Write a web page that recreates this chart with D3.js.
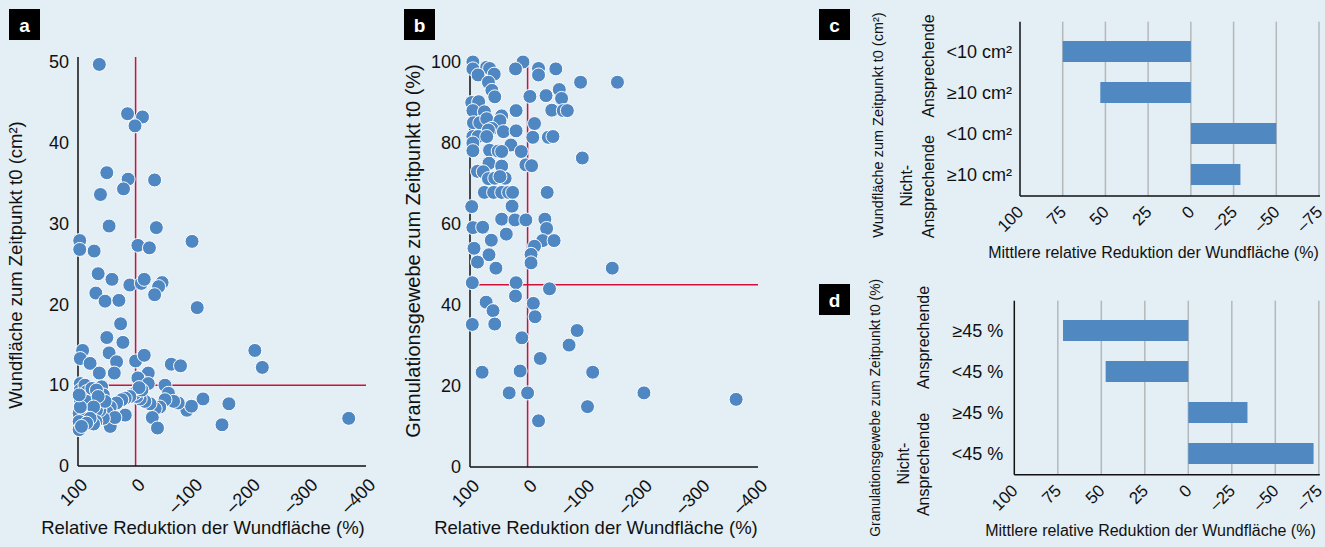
<!DOCTYPE html>
<html>
<head>
<meta charset="utf-8">
<script src="https://cdn.jsdelivr.net/npm/d3@7"></script>
<style>
  html, body { margin: 0; padding: 0; background: #e3eef5; }
  svg { display: block; font-family: "Liberation Sans", Arial, Helvetica, sans-serif; }
</style>
</head>
<body>
<svg id="chart" width="1325" height="547"></svg>
<script>
// Panel a: [relative reduction of wound area (%), wound area at t0 (cm²)]
const areaPoints = [
  [63,49.7],[14,43.6],[-12,43.2],[1,42.1],[50,36.3],[13,35.5],[21,34.3],[-33,35.4],[61,33.6],
  [46,29.7],[-36,29.5],[-98,27.8],[97,27.9],[97,26.8],[72,26.6],[-4,27.3],[-24,27.0],
  [65,23.8],[41,23.1],[10,22.4],[-10,22.6],[-15,23.1],[-46,22.7],[-40,22.2],[-33,21.2],
  [69,21.4],[53,20.4],[29,20.5],[-107,19.6],
  [26,17.6],[50,15.9],[22,15.3],[92,14.3],[96,13.3],[46,14.0],[79,12.7],[33,12.9],[63,11.5],
  [37,11.5],[0,13.0],[-15,13.7],[-62,12.6],[-78,12.4],[-207,14.3],[-220,12.2],
  [-22,11.5],[-8,10.6],[-11,10.2],[-4,10.9],[-22,10.2],[-51,10.0],[-57,9.0],[-117,8.3],
  [-162,7.7],[-150,5.1],[-89,6.9],[-97,7.4],[-74,7.8],[-66,8.0],[-51,8.2],[-42,7.3],[-34,7.1],
  [-25,7.7],[-16,8.0],[-8,8.3],[-2,8.6],[1,9.0],[-11,9.4],[-6,9.7],[-29,6.0],[-38,4.7],
  [10,8.6],[18,8.4],[24,8.2],[33,7.8],[44,7.3],[50,6.7],[18,6.3],[44,4.9],[36,6.0],[56,5.9],
  [62,6.9],[68,6.9],[69,5.5],[73,5.2],[59,9.8],[56,8.8],[53,8.0],
  [96,10.2],[96,9.4],[96,8.2],[98,6.5],[98,5.5],[98,4.5],[88,10.0],[85,9.2],[85,8.0],[76,9.6],
  [68,9.4],[65,8.6],[73,7.3],[79,5.9],[85,5.3],[96,7.3],[94,4.9],[98,8.8],[-370,5.9]
];

// Panel b: [relative reduction of wound area (%), granulation tissue at t0 (%)]
const granulationPoints = [
  [95,100],[8,100],[95,98.3],[71,98.7],[66,98.4],[86,96.8],[58,97],[21,98.3],[-19,98.4],
  [-19,96.8],[-49,98.3],[-92,95],[-156,95],[68,95],[62,93],[57,91.4],[-4,91.5],[-32,91.7],
  [-55,93.2],[-59,91],[-42,88.1],[-62,88],[-69,88],[20,88],[97,90],[85,90.2],[95,88],[75,87.7],
  [94,85],[83,85],[71,86],[45,86.7],[48,85.5],[62,83.6],[42,82.8],[68,83.2],[20,83],[-12,84.8],
  [-9,81.4],[-36,81.4],[-44,81.6],[95,81.6],[86,81.6],[71,81.6],[95,80],[95,78.1],[29,79.5],
  [11,77.9],[66,78.2],[51,78],[45,77.9],[-95,76.3],[3,74.6],[-7,74.4],[67,75],[45,74.3],
  [87,73],[77,72.9],[68,71.2],[57,71.3],[39,71.3],[48,71.7],[75,67.8],[59,67.8],[45,67.8],
  [33,67.8],[26,67.8],[-34,67.8],[97,64.3],[27,64.4],[45,61.2],[22,61],[3,61],[-30,61.2],
  [95,59.1],[78,59.2],[-33,58.9],[37,57.5],[63,56],[-26,55.9],[-46,55.9],[-12,54.5],[93,54],
  [67,52.4],[-6,52.5],[-6,50.4],[87,50.6],[55,49.1],[-147,49.1],
  [96,45.5],[20,45.5],[-38,44],[21,42.2],[72,40.7],[-10,40.4],[60,38.6],[-13,37.1],[96,35.2],
  [57,35.3],[10,31.9],[-86,33.7],[-72,30.1],[-22,26.8],[79,23.4],[13,23.7],[-113,23.4],
  [32,18.3],[0,18.3],[-202,18.3],[-362,16.7],[-104,14.9],[-19,11.4]
];

const scatterXTicks = [100, 0, -100, -200, -300, -400];
const areaYTicks = [0, 10, 20, 30, 40, 50];
const granulationYTicks = [0, 20, 40, 60, 80, 100];
const areaThreshold = 10;
const granulationThreshold = 45;

// Panels c and d: mean relative reduction per group
const groupLabels = ["Ansprechende", "Nicht-Ansprechende"];
const areaCategories = ["<10 cm²", "≥10 cm²", "<10 cm²", "≥10 cm²"];
const areaMeans = [75, 53, -50, -29];
const granulationCategories = ["≥45 %", "<45 %", "≥45 %", "<45 %"];
const granulationMeans = [72, 47.5, -34, -72];
const barXTicks = [100, 75, 50, 25, 0, -25, -50, -75];

const BG = "#e3eef5", DOT = "#4f87c2", BAR = "#5088c2", RED = "#d0103a", GRID = "#b5b8bb";
const svg = d3.select("#chart");
svg.append("rect").attr("width", 1325).attr("height", 547).attr("fill", BG);

const fmt = d => d < 0 ? "\u2013" + Math.abs(d) : String(d);

function panelTag(x, y, letter) {
  svg.append("rect").attr("x", x).attr("y", y).attr("width", 31).attr("height", 31).attr("fill", "#000");
  svg.append("text").attr("x", x + 15.5).attr("y", y + 16).attr("dy", "0.35em")
    .attr("text-anchor", "middle").attr("fill", "#fff").attr("font-weight", "bold")
    .attr("font-size", 19).text(letter);
}

function scatterPanel(o) {
  const g = svg.append("g");
  const x = d3.scaleLinear().domain([100, -400]).range([o.x0, o.x1]);
  const y = d3.scaleLinear().domain([0, o.yMax]).range([o.yBottom, o.yTopTick]);

  // reference lines
  g.append("line").attr("x1", x(0)).attr("x2", x(0)).attr("y1", o.yTop).attr("y2", o.yBottom)
    .attr("stroke", RED).attr("stroke-width", 1.5);
  g.append("line").attr("x1", o.x0).attr("x2", o.x1).attr("y1", y(o.threshold)).attr("y2", y(o.threshold))
    .attr("stroke", RED).attr("stroke-width", 1.5);

  // axes
  const ya = g.append("g").attr("transform", `translate(${o.x0},0)`)
    .call(d3.axisLeft(y).tickValues(o.yTicks).tickSize(0).tickPadding(9));
  ya.select(".domain").remove();
  ya.selectAll("text").attr("font-size", 18).attr("fill", "#111").attr("font-family", null);

  const xa = g.append("g").attr("transform", `translate(0,${o.yBottom})`)
    .call(d3.axisBottom(x).tickValues(scatterXTicks).tickFormat(fmt).tickSize(0));
  xa.select(".domain").remove();
  xa.selectAll("text").attr("font-size", 18).attr("fill", "#111").attr("font-family", null)
    .attr("x", 0).attr("y", 0).attr("dy", 0).attr("text-anchor", "end")
    .attr("transform", "translate(10,20) rotate(-45)");

  g.append("line").attr("x1", o.x0).attr("x2", o.x0).attr("y1", o.yTop).attr("y2", o.yBottom)
    .attr("stroke", "#111").attr("stroke-width", 1.5);
  g.append("line").attr("x1", o.x0).attr("x2", o.x1).attr("y1", o.yBottom).attr("y2", o.yBottom)
    .attr("stroke", "#111").attr("stroke-width", 1.5);

  // points
  g.append("g").selectAll("circle").data(o.points).join("circle")
    .attr("cx", d => x(d[0])).attr("cy", d => y(d[1])).attr("r", 7)
    .attr("fill", DOT).attr("stroke", "#fff").attr("stroke-width", 1);

  // titles
  g.append("text").attr("x", o.xTitleX).attr("y", 528).attr("dy", "0.35em")
    .attr("text-anchor", "middle").attr("font-size", 18.5).attr("fill", "#111")
    .text("Relative Reduktion der Wundfläche (%)");
  g.append("text").attr("transform", `translate(${o.yTitleX},${o.yTitleY}) rotate(-90)`)
    .attr("dy", "0.35em").attr("text-anchor", "middle").attr("font-size", o.yTitleSize).attr("fill", "#111")
    .text(o.yTitle);
}

scatterPanel({
  x0: 78, x1: 366, yBottom: 466, yTopTick: 62, yTop: 57, yMax: 50,
  yTicks: areaYTicks, threshold: areaThreshold, points: areaPoints,
  xTitleX: 203, yTitleX: 16, yTitleY: 265, yTitleSize: 18.5,
  yTitle: "Wundfläche zum Zeitpunkt t0 (cm²)"
});
scatterPanel({
  x0: 470, x1: 758, yBottom: 467, yTopTick: 62, yTop: 57, yMax: 100,
  yTicks: granulationYTicks, threshold: granulationThreshold, points: granulationPoints,
  xTitleX: 596, yTitleX: 413, yTitleY: 251, yTitleSize: 20,
  yTitle: "Granulationsgewebe zum Zeitpunkt t0 (%)"
});

function barPanel(o) {
  const g = svg.append("g");
  const idx = d3.range(o.values.length);
  const x = d3.scaleLinear().domain([100, -75]).range([o.x0, o.x1]);
  const y = d3.scaleBand().domain(idx).range([o.bandTop, o.bandBottom])
    .paddingInner(20 / 41).paddingOuter(10 / 41);

  // vertical grid
  g.append("g").selectAll("line").data(barXTicks.slice(1)).join("line")
    .attr("x1", d => x(d)).attr("x2", d => x(d)).attr("y1", o.axisTop).attr("y2", o.axisBottom)
    .attr("stroke", GRID).attr("stroke-width", 1.5);

  // bars
  g.append("g").selectAll("rect").data(idx).join("rect")
    .attr("x", i => Math.min(x(0), x(o.values[i])))
    .attr("width", i => Math.abs(x(o.values[i]) - x(0)))
    .attr("y", i => y(i)).attr("height", y.bandwidth()).attr("fill", BAR);

  // axes
  const xa = g.append("g").attr("transform", `translate(0,${o.axisBottom})`)
    .call(d3.axisBottom(x).tickValues(barXTicks).tickFormat(fmt).tickSize(0));
  xa.select(".domain").remove();
  xa.selectAll("text").attr("font-size", 17).attr("fill", "#111").attr("font-family", null)
    .attr("x", 0).attr("y", 0).attr("dy", 0).attr("text-anchor", "end")
    .attr("transform", "translate(4,17) rotate(-45)");
  g.append("line").attr("x1", o.x0).attr("x2", o.x0).attr("y1", o.axisTop).attr("y2", o.axisBottom)
    .attr("stroke", "#111").attr("stroke-width", 1.5);
  g.append("line").attr("x1", o.x0).attr("x2", o.x1 + 1).attr("y1", o.axisBottom).attr("y2", o.axisBottom)
    .attr("stroke", "#111").attr("stroke-width", 1.5);

  // category labels
  g.append("g").selectAll("text").data(idx).join("text")
    .attr("x", o.catX).attr("y", i => y(i) + y.bandwidth() / 2).attr("dy", "0.35em")
    .attr("text-anchor", "end").attr("font-size", 18).attr("fill", "#111")
    .text(i => o.categories[i]);

  // group labels
  const gl = (tx, ty, s) => g.append("text").attr("transform", `translate(${tx},${ty}) rotate(-90)`)
    .attr("dy", "0.35em").attr("text-anchor", "middle").attr("font-size", 16).attr("fill", "#111").text(s);
  gl(o.grpX, o.grp1Y, groupLabels[0]);
  gl(o.nichtX, o.grp2Y, "Nicht-");
  gl(o.grpX, o.grp2Y + 1, "Ansprechende");

  // titles
  g.append("text").attr("x", o.xTitleX).attr("y", o.xTitleY).attr("dy", "0.35em")
    .attr("text-anchor", "middle").attr("font-size", 16).attr("fill", "#111")
    .text("Mittlere relative Reduktion der Wundfläche (%)");
  g.append("text").attr("transform", `translate(${o.yTitleX},${o.yTitleY}) rotate(-90)`)
    .attr("dy", "0.35em").attr("text-anchor", o.yTitleAnchor).attr("font-size", o.yTitleSize).attr("fill", "#111")
    .text(o.yTitle);
}

barPanel({
  x0: 1020, x1: 1319, bandTop: 31, bandBottom: 195, axisTop: 21.7, axisBottom: 196,
  values: areaMeans, categories: areaCategories, catX: 1012,
  grpX: 928, nichtX: 906.7, grp1Y: 66, grp2Y: 185.7,
  xTitleX: 1153.5, xTitleY: 252, yTitleX: 878, yTitleY: 125, yTitleAnchor: "middle", yTitleSize: 14.5,
  yTitle: "Wundfläche zum Zeitpunkt t0 (cm²)"
});
barPanel({
  x0: 1014.3, x1: 1318.8, bandTop: 310, bandBottom: 474, axisTop: 300.7, axisBottom: 474.7,
  values: granulationMeans, categories: granulationCategories, catX: 1003.3,
  grpX: 923, nichtX: 903, grp1Y: 337.5, grp2Y: 463.5,
  xTitleX: 1150.5, xTitleY: 530, yTitleX: 875, yTitleY: 279, yTitleAnchor: "end", yTitleSize: 13.8,
  yTitle: "Granulationsgewebe zum Zeitpunkt t0 (%)"
});

panelTag(9, 9, "a");
panelTag(404, 9, "b");
panelTag(819, 9, "c");
panelTag(819, 284, "d");
</script>
</body>
</html>
